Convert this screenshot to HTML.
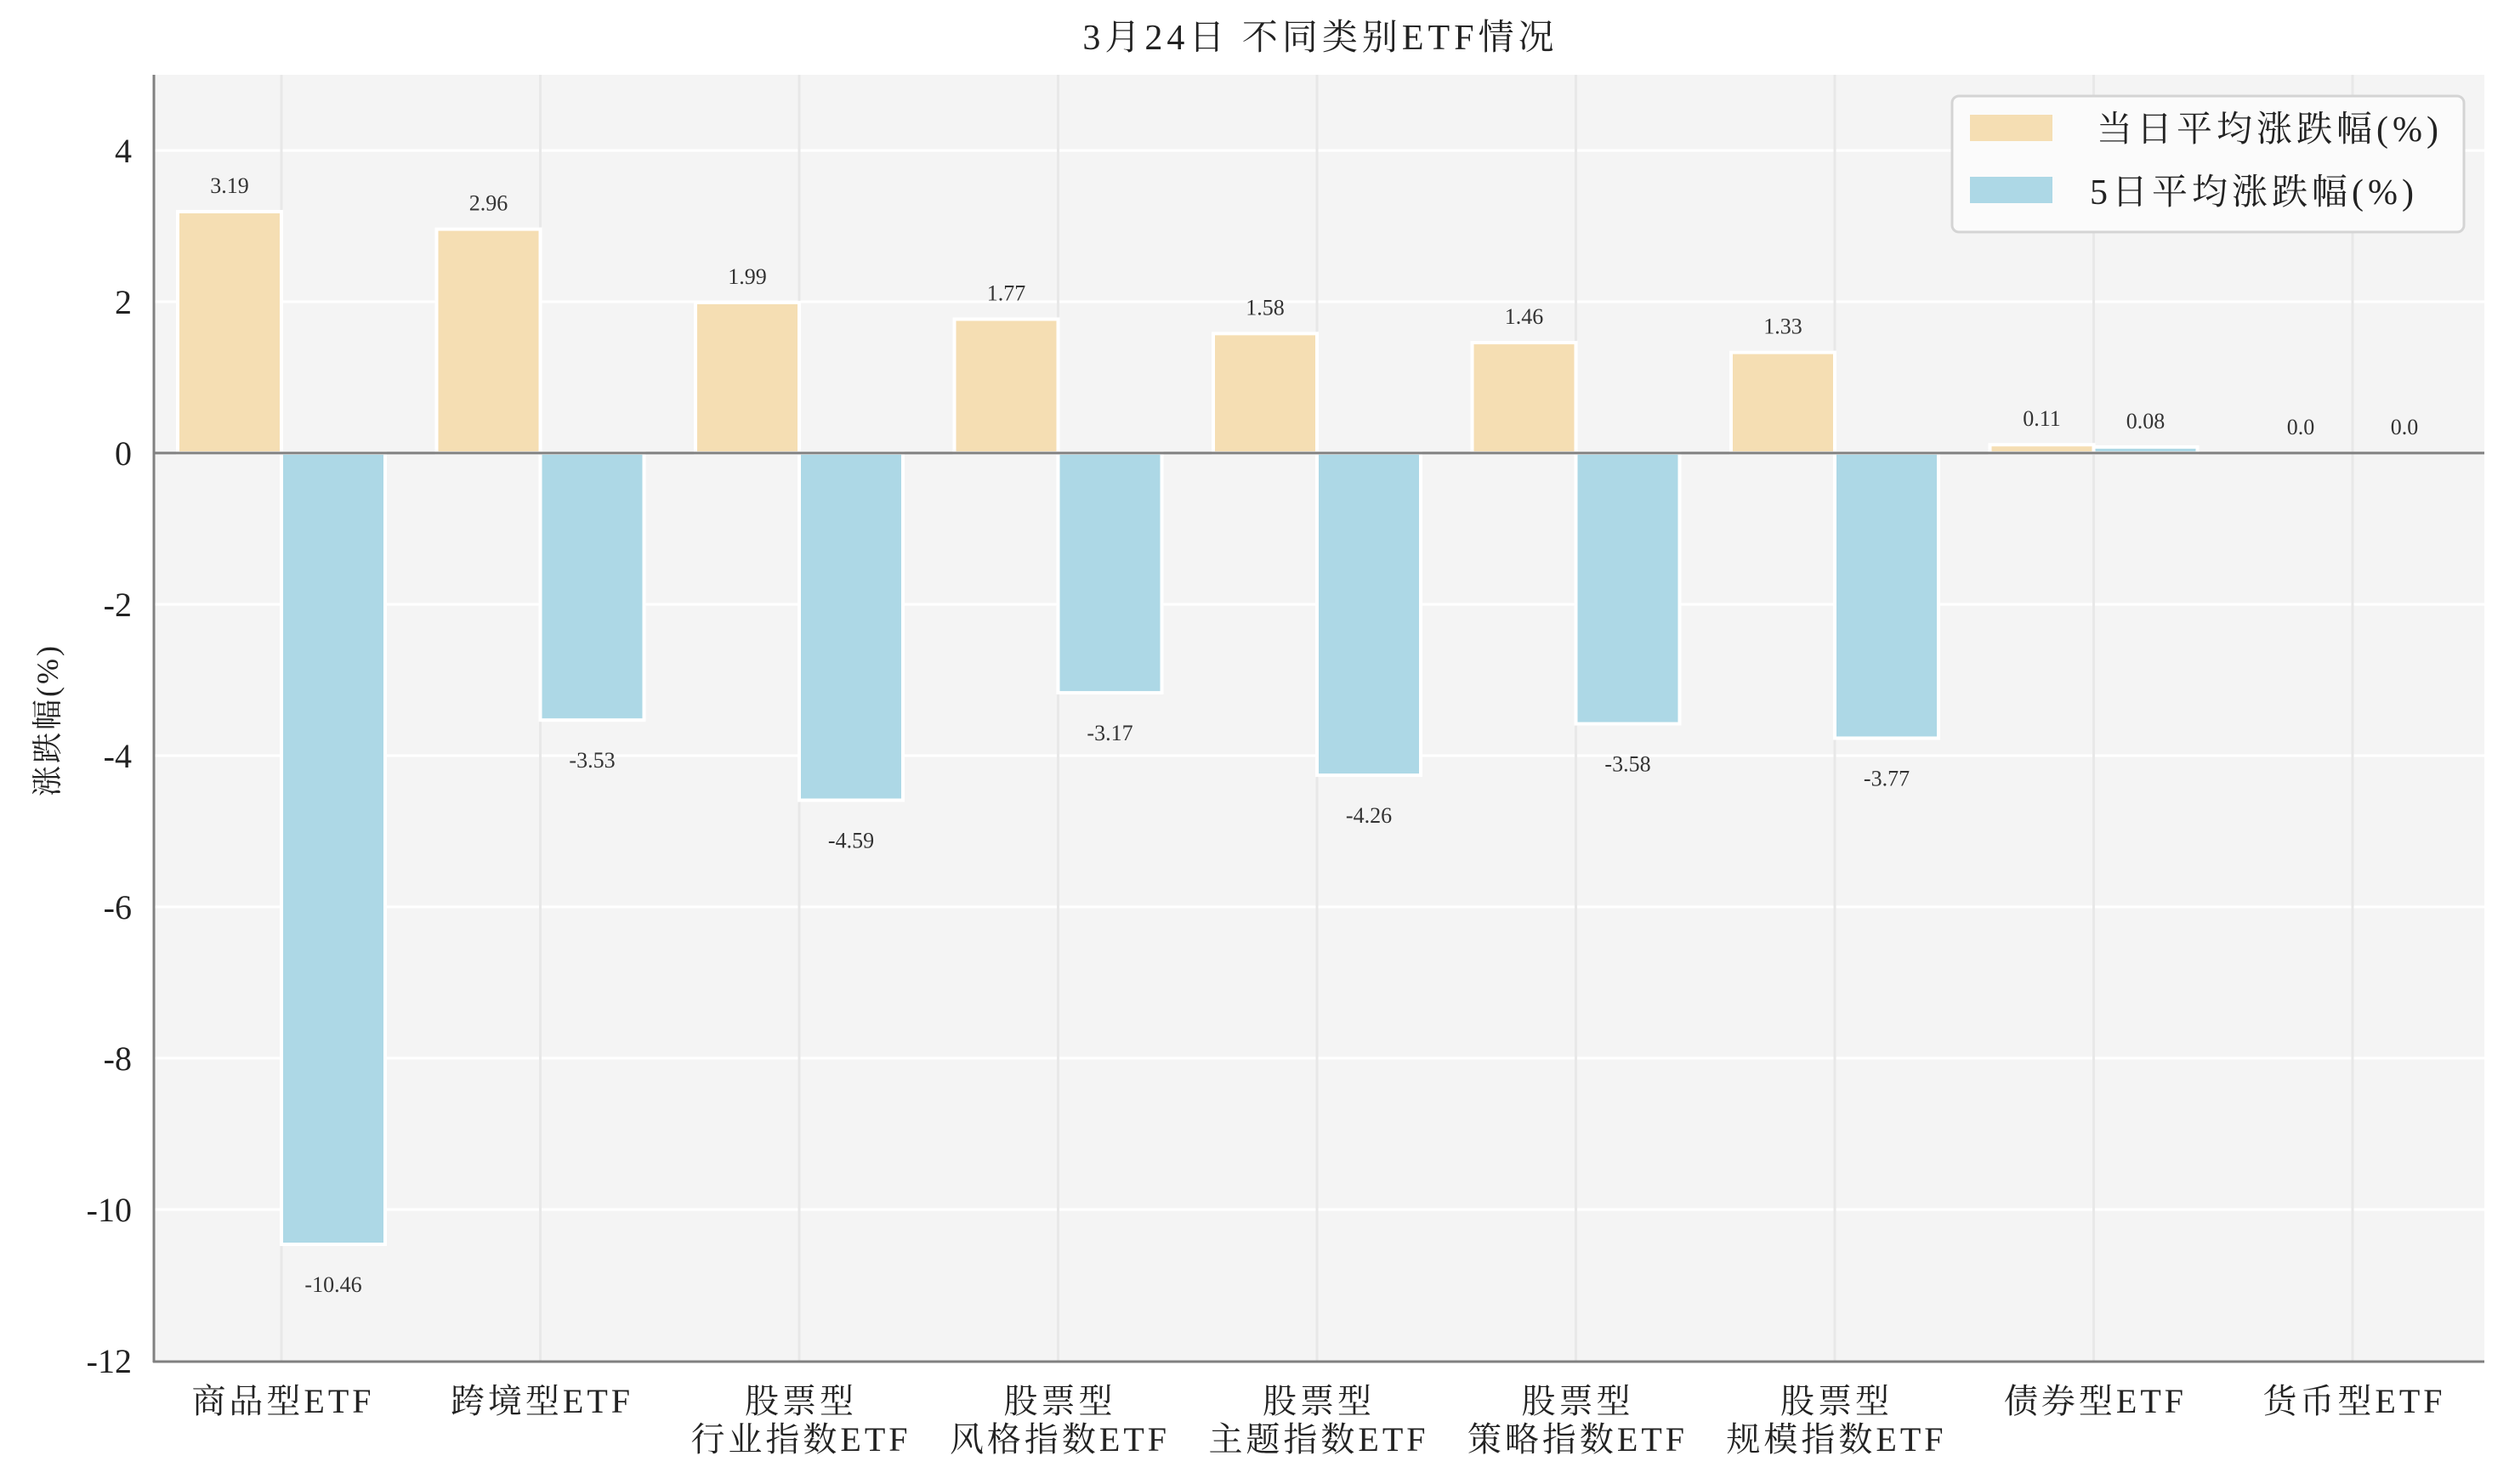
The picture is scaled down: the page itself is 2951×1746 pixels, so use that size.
<!DOCTYPE html>
<html><head><meta charset="utf-8"><style>
html,body{margin:0;padding:0;background:#fff;}
svg{display:block;font-family:"Liberation Serif","Noto Serif CJK SC",serif;}
</style></head><body>
<svg width="2951" height="1746" viewBox="0 0 2951 1746" xmlns="http://www.w3.org/2000/svg">
<rect x="181" y="88" width="2741" height="1514" fill="#f4f4f4"/>
<g stroke="#ffffff" stroke-width="3">
<line x1="181" x2="2922" y1="177" y2="177"/>
<line x1="181" x2="2922" y1="355" y2="355"/>
<line x1="181" x2="2922" y1="711" y2="711"/>
<line x1="181" x2="2922" y1="889" y2="889"/>
<line x1="181" x2="2922" y1="1067" y2="1067"/>
<line x1="181" x2="2922" y1="1245" y2="1245"/>
<line x1="181" x2="2922" y1="1423" y2="1423"/>
</g>
<g stroke="#e8e8e8" stroke-width="3">
<line x1="331" x2="331" y1="88" y2="1602"/>
<line x1="635.5" x2="635.5" y1="88" y2="1602"/>
<line x1="940" x2="940" y1="88" y2="1602"/>
<line x1="1244.5" x2="1244.5" y1="88" y2="1602"/>
<line x1="1549" x2="1549" y1="88" y2="1602"/>
<line x1="1853.5" x2="1853.5" y1="88" y2="1602"/>
<line x1="2158" x2="2158" y1="88" y2="1602"/>
<line x1="2462.5" x2="2462.5" y1="88" y2="1602"/>
<line x1="2767" x2="2767" y1="88" y2="1602"/>
</g>
<g stroke="#ffffff" stroke-width="4">
<g fill="#f5deb3">
<rect x="209" y="249" width="122" height="284"/>
<rect x="513.5" y="269.6" width="122" height="263.4"/>
<rect x="818" y="355.9" width="122" height="177.1"/>
<rect x="1122.5" y="375.5" width="122" height="157.5"/>
<rect x="1427" y="392.4" width="122" height="140.6"/>
<rect x="1731.5" y="403.1" width="122" height="129.9"/>
<rect x="2036" y="414.6" width="122" height="118.4"/>
<rect x="2340.5" y="523.2" width="122" height="9.8"/>
</g>
<g fill="#add8e6">
<rect x="331" y="533" width="122" height="931"/>
<rect x="635.5" y="533" width="122" height="314.2"/>
<rect x="940" y="533" width="122" height="408.5"/>
<rect x="1244.5" y="533" width="122" height="282.1"/>
<rect x="1549" y="533" width="122" height="379.1"/>
<rect x="1853.5" y="533" width="122" height="318.6"/>
<rect x="2158" y="533" width="122" height="335.5"/>
<rect x="2462.5" y="525.9" width="122" height="7.1"/>
</g>
</g>
<line x1="181" x2="2922" y1="533" y2="533" stroke="#808080" stroke-width="3"/>
<g font-size="26" fill="#333" text-anchor="middle">
<text x="270" y="227">3.19</text>
<text x="574.5" y="247.6">2.96</text>
<text x="879" y="333.9">1.99</text>
<text x="1183.5" y="353.5">1.77</text>
<text x="1488" y="370.4">1.58</text>
<text x="1792.5" y="381.1">1.46</text>
<text x="2097" y="392.6">1.33</text>
<text x="2401.5" y="501.2">0.11</text>
<text x="2706" y="511">0.0</text>
<text x="392" y="1520">-10.46</text>
<text x="696.5" y="903.2">-3.53</text>
<text x="1001" y="997.5">-4.59</text>
<text x="1305.5" y="871.1">-3.17</text>
<text x="1610" y="968.1">-4.26</text>
<text x="1914.5" y="907.6">-3.58</text>
<text x="2219" y="924.5">-3.77</text>
<text x="2523.5" y="503.9">0.08</text>
<text x="2828" y="511">0.0</text>
</g>
<line x1="181" x2="181" y1="88" y2="1603" stroke="#808080" stroke-width="3"/>
<line x1="180" x2="2922" y1="1602" y2="1602" stroke="#808080" stroke-width="3"/>
<g font-size="40" fill="#222" text-anchor="end">
<text x="155" y="191">4</text>
<text x="155" y="369">2</text>
<text x="155" y="547">0</text>
<text x="155" y="725">-2</text>
<text x="155" y="903">-4</text>
<text x="155" y="1081">-6</text>
<text x="155" y="1259">-8</text>
<text x="155" y="1437">-10</text>
<text x="155" y="1615">-12</text>
</g>
<g font-size="40" fill="#222" text-anchor="middle" letter-spacing="4">
<text x="333" y="1662">商品型ETF</text>
<text x="637.5" y="1662">跨境型ETF</text>
<text x="942" y="1662">股票型</text><text x="942" y="1707">行业指数ETF</text>
<text x="1246.5" y="1662">股票型</text><text x="1246.5" y="1707">风格指数ETF</text>
<text x="1551" y="1662">股票型</text><text x="1551" y="1707">主题指数ETF</text>
<text x="1855.5" y="1662">股票型</text><text x="1855.5" y="1707">策略指数ETF</text>
<text x="2160" y="1662">股票型</text><text x="2160" y="1707">规模指数ETF</text>
<text x="2464.5" y="1662">债券型ETF</text>
<text x="2769" y="1662">货币型ETF</text>
</g>
<text x="1553" y="58" font-size="42" fill="#222" text-anchor="middle" letter-spacing="5">3月24日 不同类别ETF情况</text>
<text transform="translate(68,847) rotate(-90)" font-size="36" fill="#222" text-anchor="middle" letter-spacing="3">涨跌幅(%)</text>
<rect x="2296" y="113" width="602" height="160" rx="8" fill="#fbfbfb" stroke="#d4d4d4" stroke-width="3"/>
<rect x="2317" y="135" width="97" height="31" fill="#f5deb3"/>
<rect x="2317" y="208" width="97" height="31" fill="#add8e6"/>
<g font-size="42" fill="#222" letter-spacing="5">
<text x="2466" y="166">当日平均涨跌幅(%)</text>
<text x="2458" y="240">5日平均涨跌幅(%)</text>
</g>
</svg>
</body></html>
